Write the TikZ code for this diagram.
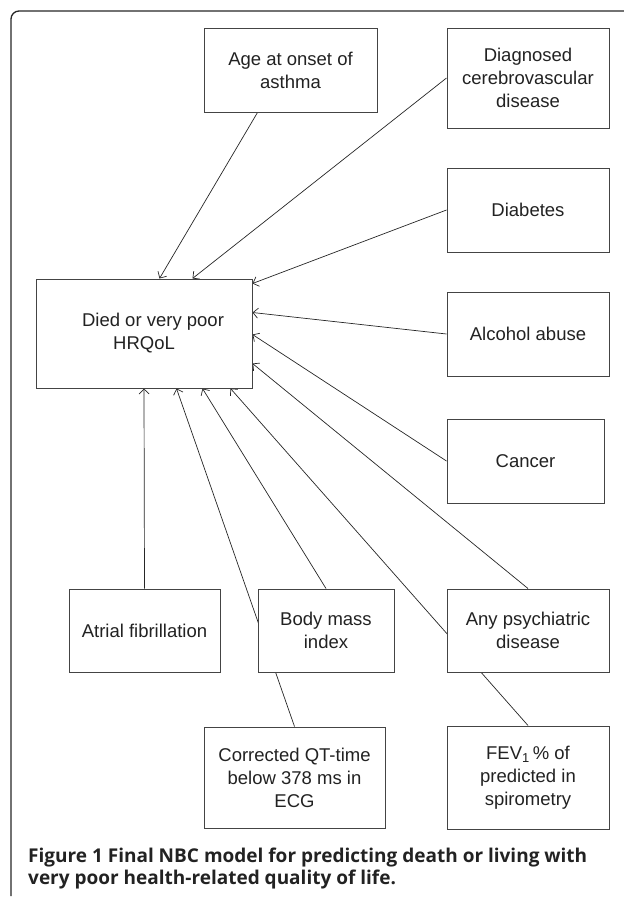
\documentclass[tikz,border=0pt]{standalone}
\usepackage{fontspec}
\setmainfont{Liberation Sans}
\newfontfamily\capfont{Open Sans}
\usetikzlibrary{arrows.meta,calc,backgrounds}
\definecolor{boxline}{HTML}{444444}
\definecolor{txt}{HTML}{222222}
\tikzset{
  var/.style={draw=boxline, line width=1pt, fill=white, rectangle, inner sep=0pt,
    align=center, text=txt, font=\fontsize{18.5pt}{23pt}\selectfont},
  link/.style={line width=0.7pt, draw=black!85, -{Straight Barb[length=5pt,width=10pt]}},
  captxt/.style={anchor=base west, inner sep=0pt, text=txt, font=\capfont\fontsize{19pt}{22pt}\selectfont}
}
\begin{document}
\begin{tikzpicture}[x=1pt,y=-1pt]
\useasboundingbox (0,0) rectangle (624,898);
% frame
\draw[line width=1.3pt, draw=black!85, rounded corners=8pt] (624,11) -- (11,11) -- (11,896);
% nodes
\node[var, minimum width=173pt, minimum height=84pt] (age) at (290.5,70) {Age at onset of\\asthma};
\node[var, minimum width=162pt, minimum height=100pt] (diag) at (528,78) {Diagnosed\\cerebrovascular\\disease};
\node[var, minimum width=162pt, minimum height=84pt] (diab) at (528,210) {Diabetes};
\node[var, minimum width=162pt, minimum height=84pt] (alc) at (528,334) {Alcohol abuse};
\node[var, minimum width=157pt, minimum height=84pt] (cancer) at (525.5,461) {Cancer};
\node[var, minimum width=216pt, minimum height=109pt] (main) at (144,333.5) {\hspace*{18pt}Died or very poor\\HRQoL};
\node[var, minimum width=151pt, minimum height=83pt] (atrial) at (144.5,630.5) {Atrial fibrillation};
\node[var, minimum width=136pt, minimum height=83pt] (bmi) at (326,630.5) {Body mass\\index};
\node[var, minimum width=162pt, minimum height=83pt] (psych) at (528,630.5) {Any psychiatric\\disease};
\node[var, minimum width=181pt, minimum height=101pt] (cqt) at (294.5,777.5) {Corrected QT-time\\below 378 ms in\\ECG};
\node[var, minimum width=162pt, minimum height=103pt] (fev) at (528,777.5) {FEV\textsubscript{1}\,\% of\\predicted in\\spirometry};
% connectors
\begin{pgfonlayer}{background}
\draw[link] ($(age.south west)+(54,0)$) -- ($(main.north west)+(124,0)$);
\draw[link] (diag.west) -- ($(main.north west)+(157,0)$);
\draw[link] (diab.west) -- ($(main.north east)+(0,5)$);
\draw[link] (alc.west) -- ($(main.north east)+(0,34)$);
\draw[link] (cancer.west) -- ($(main.north east)+(0,56)$);
\draw[link] (psych.north) -- ($(main.north east)+(0,85)$);
\draw[link] (atrial.north) -- (main.south);
\draw[link] (cqt.north) -- ($(main.south west)+(141,0)$);
\draw[link] (bmi.north) -- ($(main.south west)+(167,0)$);
\draw[link] (fev.north) -- ($(main.south west)+(195,0)$);
\end{pgfonlayer}
% caption
\node[captxt] (cap1) at (28,862) {\textbf{Figure 1 Final NBC model for predicting death or living with}};
\node[captxt] (cap2) at (28,884) {\textbf{very poor health-related quality of life.}};
\end{tikzpicture}
\end{document}
